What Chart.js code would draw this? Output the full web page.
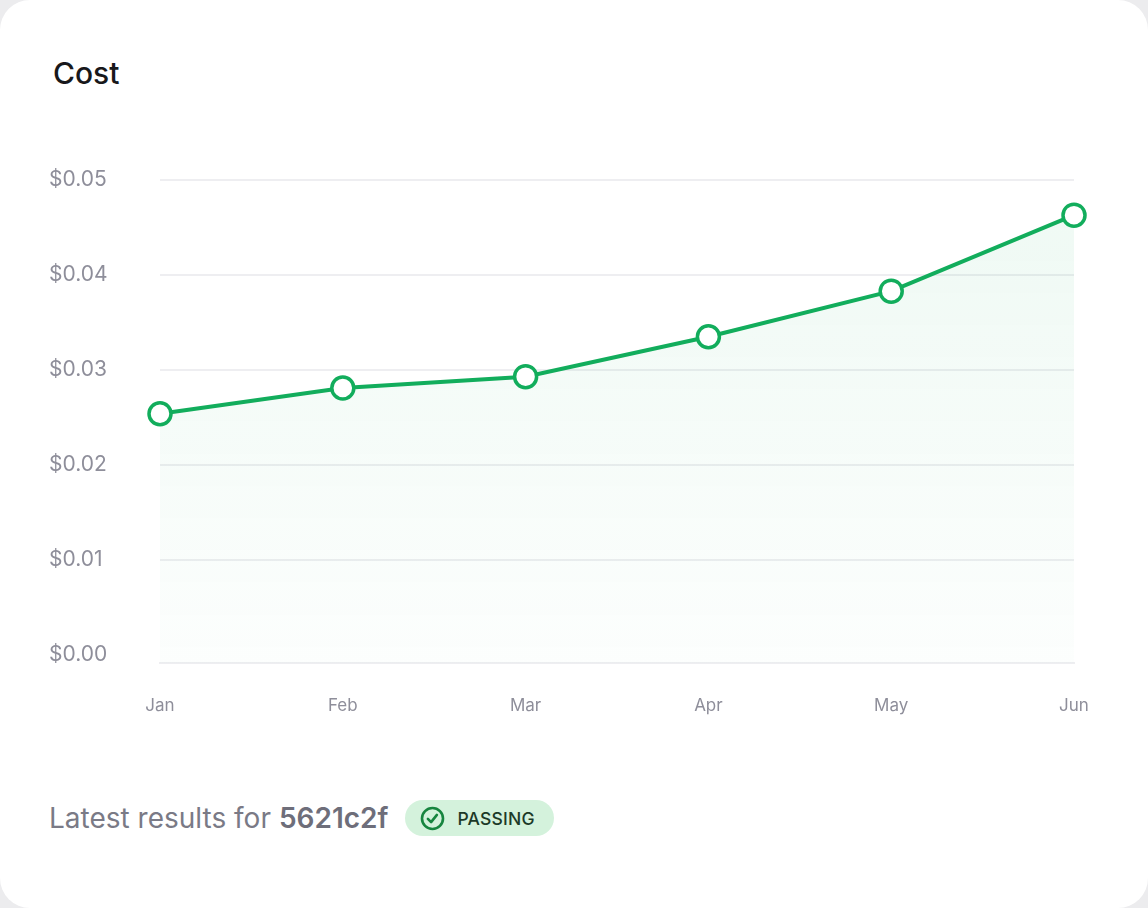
<!DOCTYPE html>
<html>
<head>
<meta charset="utf-8">
<script src="https://cdn.jsdelivr.net/npm/chart.js@4.4.1/dist/chart.umd.min.js"></script>
<style>
  html, body { margin: 0; padding: 0; }
  body {
    width: 1148px; height: 908px; background: #ececee;
    font-family: Inter, "Noto Sans", sans-serif; overflow: hidden;
  }
  .card {
    position: absolute; left: 0; top: 0; width: 1148px; height: 908px;
    background: #fff; border-radius: 30px;
  }
  .title {
    position: absolute; left: 53px; top: 53px; margin: 0;
    font-size: 30px; font-weight: 500; color: #18181b; line-height: 40px;
  }
  .chartBox { position: absolute; left: 0; top: 160px; width: 1148px; height: 580px; }
  .footer {
    position: absolute; left: 49px; top: 800px; height: 36px;
    display: flex; align-items: center; font-size: 28px; color: #7a7a86;
  }
  .footer b { font-weight: 600; color: #6e6e7a; margin-left: 8px; }
  .badge {
    margin-left: 17px; height: 36px; padding: 0 19px 0 15px; border-radius: 18px;
    background: #d4f2dc; display: flex; align-items: center;
    font-size: 17.5px; font-weight: 500; color: #1c3a28; letter-spacing: 0.2px;
  }
  .badge svg { margin-right: 12px; }
</style>
</head>
<body>
<div class="card">
  <h1 class="title">Cost</h1>
  <div class="chartBox"><canvas id="costChart"></canvas></div>
  <div class="footer">
    Latest results for <b>5621c2f</b>
    <span class="badge">
      <svg width="25" height="25" viewBox="0 0 25 25">
        <circle cx="12.5" cy="12.5" r="10.5" fill="none" stroke="#17853f" stroke-width="2.6"/>
        <path d="M7.9 12.9 L11.1 16.1 L16.9 8.9" fill="none" stroke="#17853f" stroke-width="2.6" stroke-linecap="round" stroke-linejoin="round"/>
      </svg>
      PASSING
    </span>
  </div>
</div>

<script>
// values
const months = ['Jan', 'Feb', 'Mar', 'Apr', 'May', 'Jun'];
const costValues = [0.0254, 0.0281, 0.0293, 0.0335, 0.0383, 0.0463];
const yTicks = [0, 0.01, 0.02, 0.03, 0.04, 0.05];

const green = '#12ad5c';
const gridColor = '#eeeef1';
const labelColor = '#8e8e9a';

const ctx = document.getElementById('costChart');

new Chart(ctx, {
    type: 'line',
    data: {
        labels: months,
        datasets: [{
            label: 'Cost',
            data: costValues,
            borderColor: green,
            borderWidth: 4,
            tension: 0,
            fill: 'start',
            // soft green wash fading towards the bottom
            backgroundColor: function(c) {
                const area = c.chart.chartArea;
                if (!area) return 'rgba(18,173,92,0.05)';
                const g = c.chart.ctx.createLinearGradient(0, area.top, 0, area.bottom);
                g.addColorStop(0, 'rgba(18,173,92,0.07)');
                g.addColorStop(1, 'rgba(18,173,92,0.01)');
                return g;
            },
            pointRadius: 11,
            pointHoverRadius: 11,
            pointBorderWidth: 3.5,
            pointBackgroundColor: '#ffffff',
            pointBorderColor: green,
            clip: false
        }]
    },
    options: {
        responsive: true,
        maintainAspectRatio: false,
        animation: false,
        layout: { padding: { top: 20, right: 74, left: 49, bottom: 0 } },
        plugins: {
            legend: { display: false },
            tooltip: { enabled: false }
        },
        scales: {
            x: {
                offset: false,
                grid: { display: false, drawTicks: false },
                border: { display: true, color: gridColor, width: 2 },
                ticks: {
                    color: labelColor,
                    padding: 33,
                    font: { family: 'Inter', size: 17 }
                },
                afterFit: function(scale) { scale.height = 77; }
            },
            y: {
                min: -0.00084,
                max: 0.05,
                afterBuildTicks: function(scale) {
                    scale.ticks = yTicks.map(v => ({ value: v }));
                },
                grid: {
                    drawTicks: false,
                    lineWidth: 2,
                    color: function(c) {
                        // the zero line is covered by the bottom border instead
                        return c.tick && c.tick.value === 0 ? 'rgba(0,0,0,0)' : gridColor;
                    }
                },
                border: { display: false },
                ticks: {
                    color: labelColor,
                    crossAlign: 'far',
                    font: { family: 'Inter', size: 21 },
                    callback: function(value) {
                        return '$' + Number(value).toFixed(2);
                    }
                },
                afterFit: function(scale) { scale.width = 111; }
            }
        }
    }
});
</script>
</body>
</html>
